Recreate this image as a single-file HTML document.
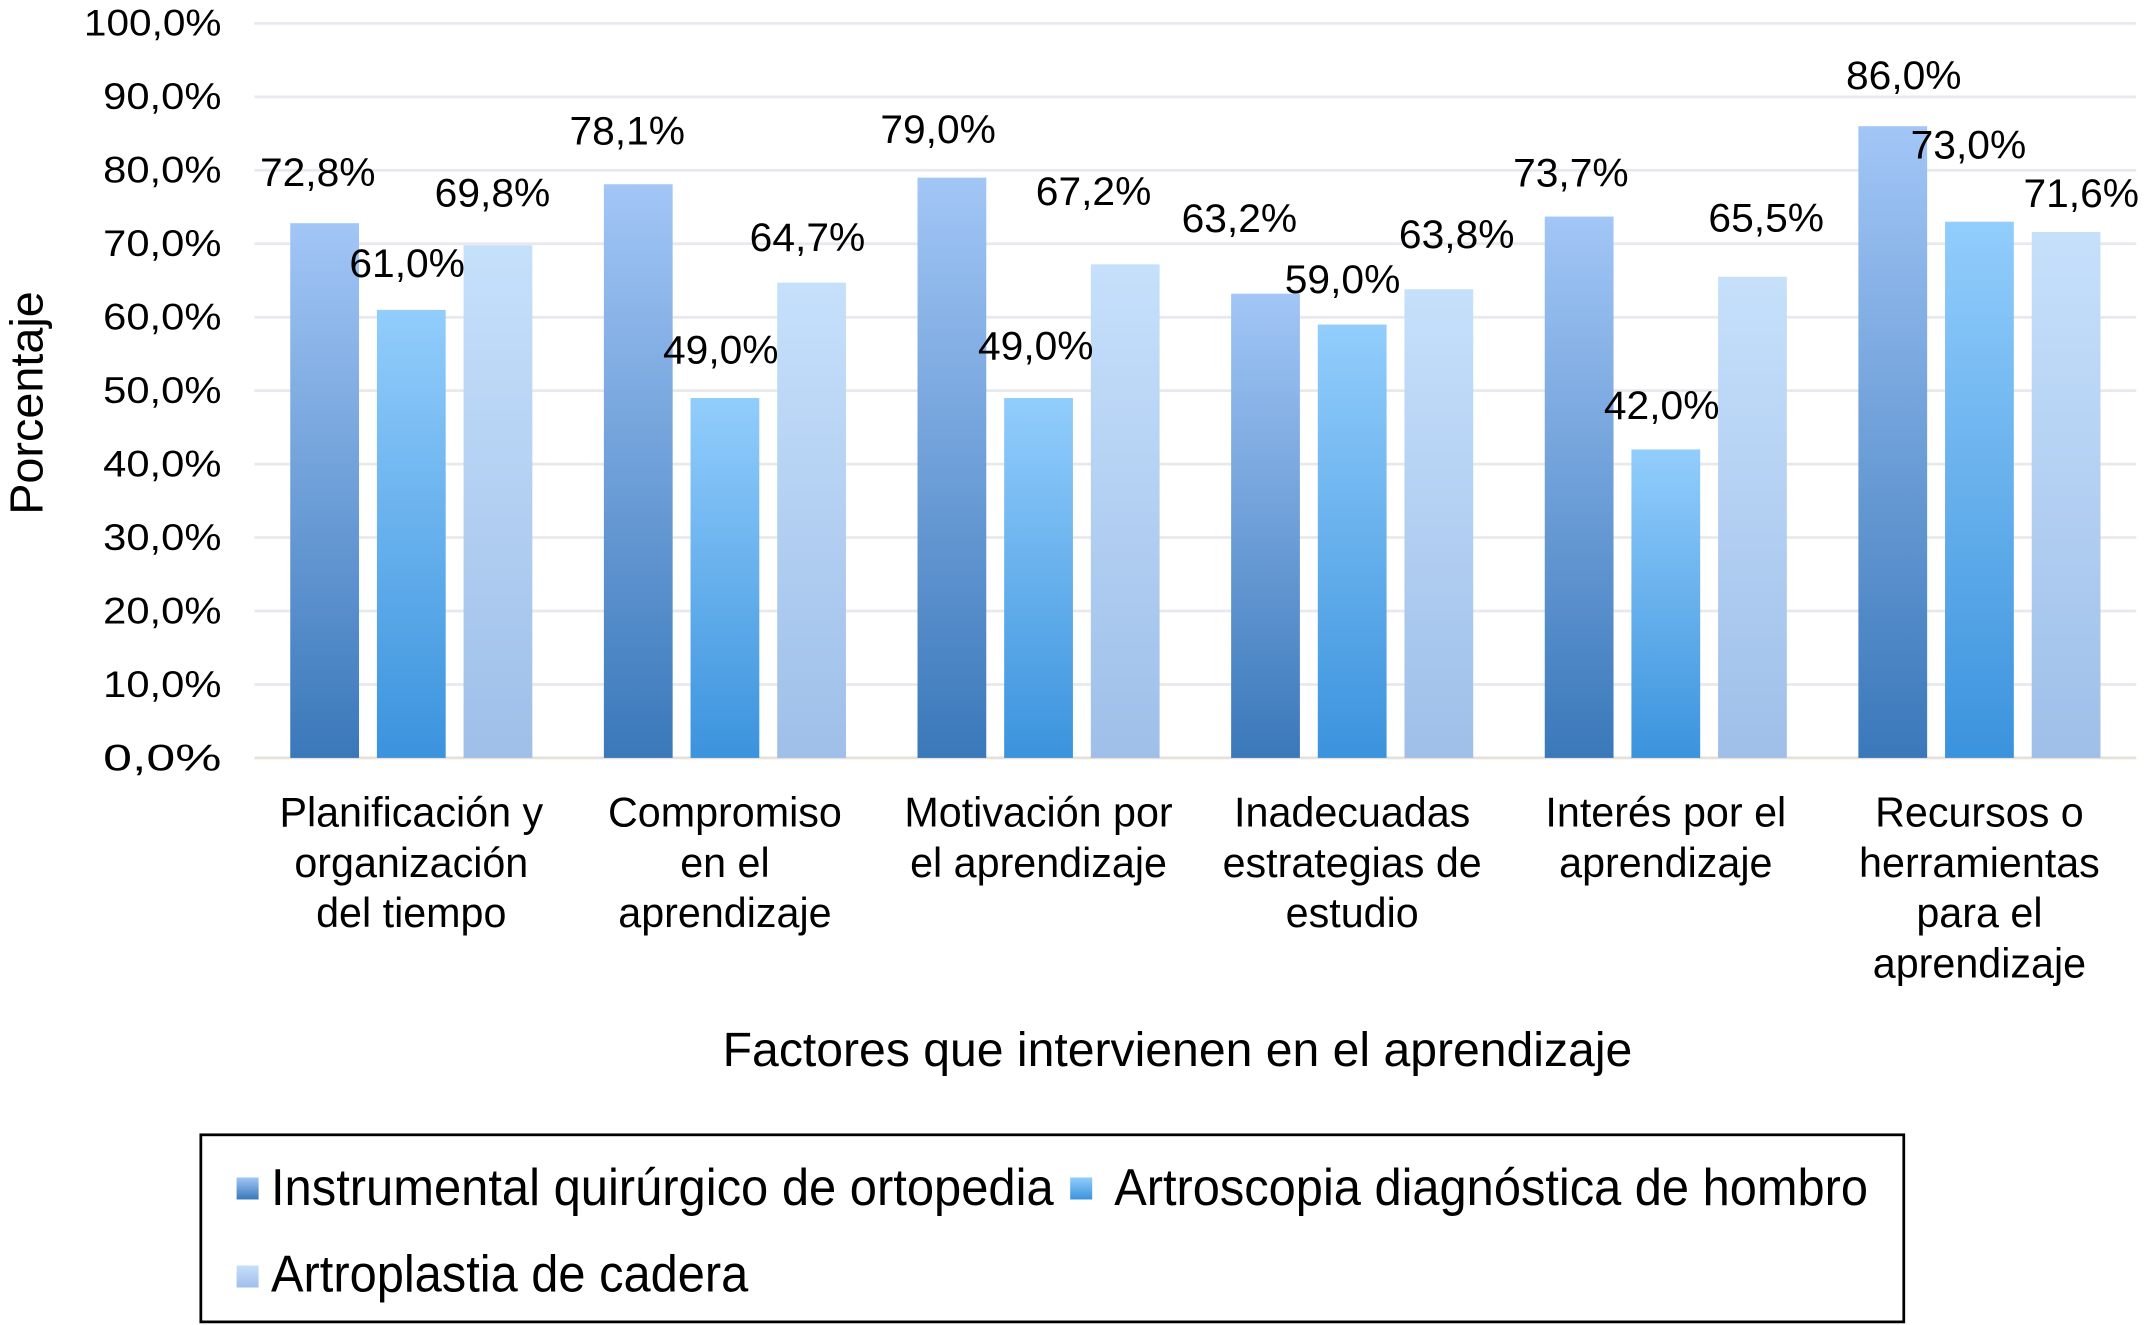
<!DOCTYPE html>
<html><head><meta charset="utf-8"><style>
html,body{margin:0;padding:0;background:#fff;}
svg{display:block;font-family:"Liberation Sans",Arial,sans-serif;}
</style></head><body>
<svg id="chart" width="2150" height="1325" viewBox="0 0 1563 963.26" preserveAspectRatio="none" xmlns="http://www.w3.org/2000/svg">
<defs>
<linearGradient id="g0" x1="0" y1="0" x2="0" y2="1"><stop offset="0" stop-color="#a2c6f6"/><stop offset="1" stop-color="#3a78ba"/></linearGradient>
<linearGradient id="g1" x1="0" y1="0" x2="0" y2="1"><stop offset="0" stop-color="#92cdfc"/><stop offset="1" stop-color="#3b93dd"/></linearGradient>
<linearGradient id="g2" x1="0" y1="0" x2="0" y2="1"><stop offset="0" stop-color="#c6e0fb"/><stop offset="1" stop-color="#9fbfe9"/></linearGradient>
</defs>
<g id="grid"></g>
<g id="yticks"></g>
<g id="bars"></g>
<g id="labels"></g>
<g id="cats"></g>
<text x="0" y="0" transform="translate(31,293) rotate(-90)" text-anchor="middle" font-size="34" fill="#000">Porcentaje</text>
<text x="856" y="775" text-anchor="middle" font-size="35" fill="#000">Factores que intervienen en el aprendizaje</text>
<g>
<rect x="146" y="825" width="1238" height="136" fill="none" stroke="#000" stroke-width="2"/>
<g><rect x="172" y="856" width="16" height="16" fill="url(#g0)"/><text x="197" y="876" font-size="38" textLength="569" lengthAdjust="spacingAndGlyphs">Instrumental quirúrgico de ortopedia</text></g>
<g><rect x="778" y="856" width="16" height="16" fill="url(#g1)"/><text x="810" y="876" font-size="38" textLength="548" lengthAdjust="spacingAndGlyphs">Artroscopia diagnóstica de hombro</text></g>
<g><rect x="172" y="920" width="16" height="16" fill="url(#g2)"/><text x="197" y="939" font-size="38" textLength="347" lengthAdjust="spacingAndGlyphs">Artroplastia de cadera</text></g>
</g>
</svg>
<script>
const categories = [["Planificación y","organización","del tiempo"],["Compromiso","en el","aprendizaje"],["Motivación por","el aprendizaje"],["Inadecuadas","estrategias de","estudio"],["Interés por el","aprendizaje"],["Recursos o","herramientas","para el","aprendizaje"]];
const seriesInstrumental = [72.8,78.1,79.0,63.2,73.7,86.0];
const seriesArtroscopia = [61.0,49.0,49.0,59.0,42.0,73.0];
const seriesArtroplastia = [69.8,64.7,67.2,63.8,65.5,71.6];
const yTicks = [0,10,20,30,40,50,60,70,80,90,100];
const labelDx = [[-5,-8,-10,-19,-6,8],[-3,-3,-2,-7,-3,-8],[-4,-3,-23,13,10,11]];
const labelDy = [[-37,-39,-35,-55,-32,-37],[-34,-35,-38,-33,-32,-56],[-38,-33,-53,-40,-43,-28]];

const NS="http://www.w3.org/2000/svg";
const L=185,R=1553,T=17,B=551;
const y=v=>B-(v/100)*(B-T);
const gw=(R-L)/categories.length;
const x=(g,s)=>L+gw*(g+0.5)+(s-1)*63;
const fmt=v=>v.toFixed(1).replace('.',',')+'%';
function mk(tag,attrs,parent){const e=document.createElementNS(NS,tag);for(const k in attrs)e.setAttribute(k,attrs[k]);parent.appendChild(e);return e;}
const grid=document.getElementById('grid'),yt=document.getElementById('yticks');
yTicks.forEach(t=>{
  const ln=mk('line',{x1:L,x2:R,y1:y(t),y2:y(t),stroke:t===0?'#e6e0d8':'#e8e8ee','stroke-width':2},grid);
  
  
  const tx=mk('text',{x:161,y:y(t)+9,'text-anchor':'end','font-size':27,textLength:t===100?100:86,lengthAdjust:'spacingAndGlyphs'},yt);
  tx.textContent=t.toFixed(1).replace('.',',')+'%';
  
  
});
const series=[seriesInstrumental,seriesArtroscopia,seriesArtroplastia];
const bars=document.getElementById('bars'),labs=document.getElementById('labels');
series.forEach((arr,s)=>{
  arr.forEach((v,g)=>{
    const cx=x(g,s);
    const r=mk('rect',{x:cx-25,y:y(v),width:50,height:B-y(v),fill:'url(#g'+s+')'},bars);
    
    
    const t=mk('text',{x:cx+labelDx[s][g],y:y(v)+labelDy[s][g]+10,'text-anchor':'middle','font-size':29,textLength:84,lengthAdjust:'spacingAndGlyphs'},labs);
    t.textContent=fmt(v);
    
    
  });
});
const cats=document.getElementById('cats');
categories.forEach((lines,g)=>{
  const t=mk('text',{x:L+gw*(g+0.5),y:601,'text-anchor':'middle','font-size':30},cats);
  
  
  lines.forEach((ln,i)=>{const sp=mk('tspan',{x:L+gw*(g+0.5),dy:i?36.5:0},t);sp.textContent=ln;});
});
</script>
</body></html>
